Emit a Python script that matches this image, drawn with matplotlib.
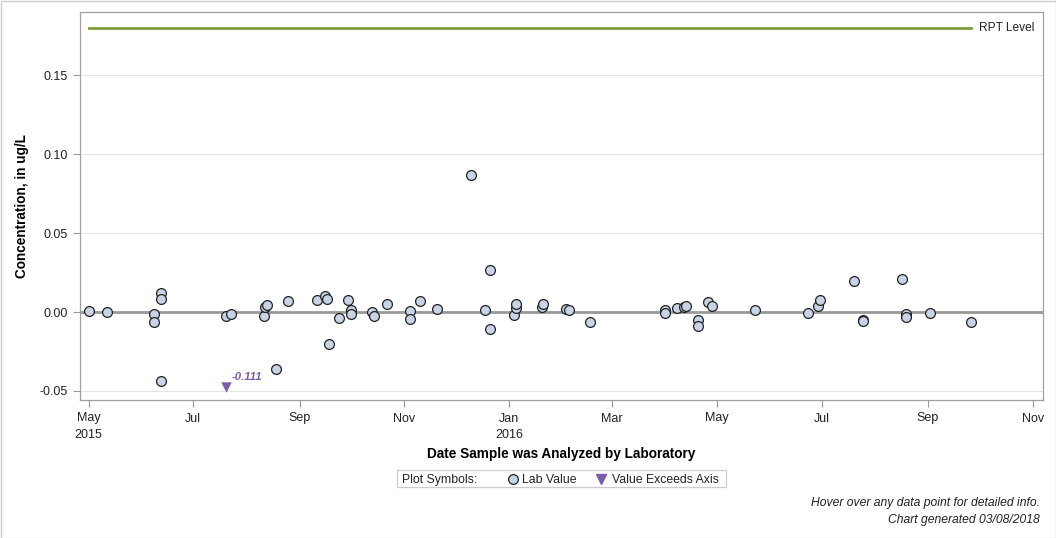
import matplotlib
matplotlib.use("Agg")
import matplotlib.pyplot as plt
from matplotlib.lines import Line2D
import datetime as dt

plt.rcParams['font.family'] = ['Liberation Sans', 'DejaVu Sans']

dates = [
    "2015-05-01", "2015-05-12", "2015-06-08", "2015-06-08", "2015-06-12", "2015-06-12", "2015-06-12",
    "2015-07-20", "2015-07-23", "2015-08-11", "2015-08-12", "2015-08-13", "2015-08-18", "2015-08-25",
    "2015-09-11", "2015-09-16", "2015-09-17", "2015-09-18", "2015-09-24", "2015-09-29", "2015-10-01",
    "2015-10-01", "2015-10-13", "2015-10-14", "2015-10-22", "2015-11-04", "2015-11-04", "2015-11-10",
    "2015-11-20", "2015-12-10", "2015-12-18", "2015-12-21", "2015-12-21", "2016-01-04", "2016-01-05",
    "2016-01-05", "2016-01-20", "2016-01-21", "2016-02-03", "2016-02-05", "2016-02-17", "2016-04-01",
    "2016-04-01", "2016-04-08", "2016-04-12", "2016-04-13", "2016-04-20", "2016-04-20", "2016-04-26",
    "2016-04-28", "2016-05-23", "2016-06-23", "2016-06-29", "2016-06-30", "2016-07-20", "2016-07-25",
    "2016-07-25", "2016-08-17", "2016-08-19", "2016-08-19", "2016-09-02", "2016-09-26",
]
values = [
    0.0005, 0.0000, -0.0010, -0.0060, 0.0118, 0.0080, -0.0437,
    -0.0027, -0.0015, -0.0027, 0.0035, 0.0044, -0.0363, 0.0070,
    0.0074, 0.0103, 0.0082, -0.0203, -0.0040, 0.0074, 0.0015,
    -0.0010, 0.0000, -0.0025, 0.0049, 0.0004, -0.0044, 0.0068,
    0.0017, 0.0865, 0.0011, 0.0266, -0.0108, -0.0020, 0.0023,
    0.0050, 0.0030, 0.0050, 0.0019, 0.0011, -0.0063, 0.0013,
    -0.0008, 0.0025, 0.0032, 0.0038, -0.0053, -0.0089, 0.0063,
    0.0038, 0.0011, -0.0008, 0.0040, 0.0074, 0.0194, -0.0048,
    -0.0056, 0.0209, -0.0015, -0.0034, -0.0006, -0.0063,
]
exceed_dates = ["2015-07-20"]
exceed_values = [-0.111]
exceed_plot_values = [-0.0475]
rpt_level = 0.18
rpt_start, rpt_end = "2015-05-01", "2016-09-26"

xticks = ["2015-05-01", "2015-07-01", "2015-09-01", "2015-11-01", "2016-01-01", "2016-03-01",
          "2016-05-01", "2016-07-01", "2016-09-01", "2016-11-01"]
xtick_labels = ["May\n2015", "Jul", "Sep", "Nov", "Jan\n2016", "Mar", "May", "Jul", "Sep", "Nov"]
yticks = [-0.05, 0.0, 0.05, 0.10, 0.15]
ytick_labels = ["-0.05", "0.00", "0.05", "0.10", "0.15"]

to_d = lambda s: dt.datetime.strptime(s, "%Y-%m-%d")

fig = plt.figure(figsize=(10.56, 5.38), dpi=100)
ax = fig.add_axes([80/1056, 1-400/538, (1043-80)/1056, (400-12)/538])

ax.set_xlim(to_d("2015-04-26"), to_d("2016-11-07"))
ax.set_ylim(-0.0557, 0.190)

for y in yticks:
    ax.axhline(y, color="#e4e4e4", lw=0.8, zorder=0)
ax.axhline(0, color="#999999", lw=2, zorder=1)

ax.plot([to_d(rpt_start), to_d(rpt_end)], [rpt_level, rpt_level], color="#7f9a3c", lw=2, zorder=2)
ax.text(to_d(rpt_end) + dt.timedelta(days=4.5), rpt_level, "RPT Level", va="center", ha="left",
        fontsize=8.6, color="#222222")

ax.scatter([to_d(d) for d in dates], values, s=50, facecolor="#c8d4e6", edgecolor="#222222",
           linewidth=0.9, zorder=3)
ax.scatter([to_d(d) for d in exceed_dates], exceed_plot_values, marker="v", s=56,
           color="#7b5ea7", zorder=3, linewidth=0)
for d, v, pv in zip(exceed_dates, exceed_values, exceed_plot_values):
    ax.annotate(f"{v:.3f}", (to_d(d), pv), xytext=(4, 5), textcoords="offset points",
                fontsize=8.2, color="#7b5ea7", fontweight="bold", fontstyle="italic")

ax.set_xticks([to_d(d) for d in xticks])
ax.set_xticklabels(xtick_labels, fontsize=9, color="#222222", linespacing=1.45)
ax.set_yticks(yticks)
ax.set_yticklabels(ytick_labels, fontsize=9, color="#222222")
ax.tick_params(axis="both", color="#999999", length=5, width=0.8)
ax.tick_params(axis="x", pad=4)
for s in ax.spines.values():
    s.set_color("#a0a0a0")
    s.set_linewidth(0.9)

ax.set_xlabel("Date Sample was Analyzed by Laboratory", fontsize=9.8, fontweight="bold", labelpad=5)
ax.set_ylabel("Concentration, in ug/L", fontsize=9.8, fontweight="bold", labelpad=8)

# Legend box (drawn manually to match the layout)
W, H = 1056, 538
fx = lambda px: px / W
fy = lambda py: 1 - py / H
ly = 478.5
fig.patches.append(plt.Rectangle((fx(397), fy(487)), fx(726) - fx(397), fy(470) - fy(487),
                                 transform=fig.transFigure, fill=False, edgecolor="#cccccc", lw=0.9))
fig.text(fx(402), fy(ly), "Plot Symbols:", fontsize=8.8, va="center_baseline", ha="left", color="#222222")
fig.lines.append(Line2D([fx(513)], [fy(ly)], transform=fig.transFigure, linestyle="none", marker="o",
                        markersize=7, markerfacecolor="#c8d4e6", markeredgecolor="#222222",
                        markeredgewidth=0.9))
fig.text(fx(522), fy(ly), "Lab Value", fontsize=8.8, va="center_baseline", ha="left", color="#222222")
fig.lines.append(Line2D([fx(601)], [fy(ly)], transform=fig.transFigure, linestyle="none", marker="v",
                        markersize=7.5, color="#7b5ea7"))
fig.text(fx(612), fy(ly), "Value Exceeds Axis", fontsize=8.8, va="center_baseline", ha="left", color="#222222")

fig.text(fx(1040), fy(503), "Hover over any data point for detailed info.", fontsize=8.7,
         fontstyle="italic", ha="right", va="center", color="#222222")
fig.text(fx(1040), fy(520), "Chart generated 03/08/2018", fontsize=8.7,
         fontstyle="italic", ha="right", va="center", color="#222222")

fig.patches.append(plt.Rectangle((0.5/W, 0.5/H), 1-1/W, 1-1/H, transform=fig.transFigure,
                                 fill=False, edgecolor="#cccccc", lw=1))

fig.savefig("out.png", dpi=100)
